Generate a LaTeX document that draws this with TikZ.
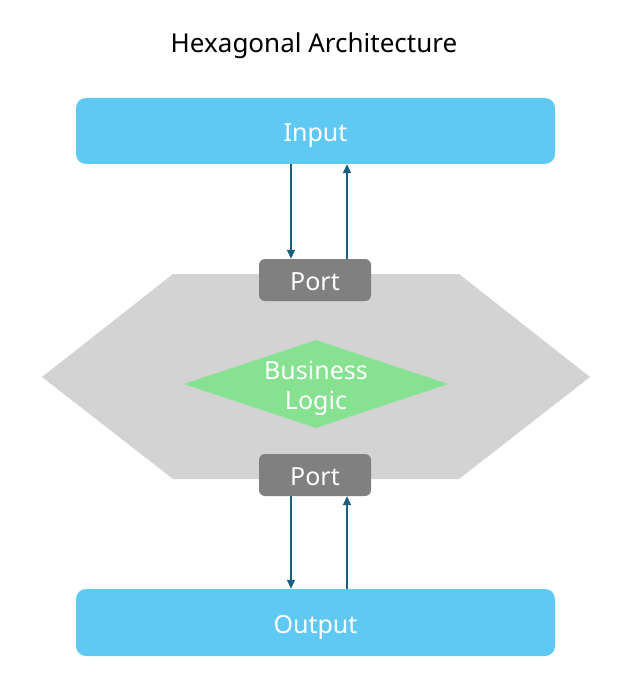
\documentclass[tikz,border=0pt]{standalone}
\usepackage{fontspec}
\setmainfont{Noto Sans}
\usetikzlibrary{shapes.geometric,arrows.meta}
\definecolor{boxblue}{HTML}{5FC9F3}
\definecolor{hexgrey}{HTML}{D3D3D3}
\definecolor{portgrey}{HTML}{808080}
\definecolor{logicgreen}{HTML}{86E291}
\definecolor{arrowteal}{HTML}{1A5F7F}
\tikzset{
  iobox/.style={rectangle, rounded corners=10pt, fill=boxblue, text=white,
    minimum width=479pt, minimum height=66pt, inner sep=0pt,
    font=\fontsize{25}{30}\selectfont, text height=21pt, text depth=0pt},
  portbox/.style={rectangle, rounded corners=6pt, fill=portgrey, text=white,
    minimum width=112pt, minimum height=42pt, inner sep=0pt,
    font=\fontsize{25}{30}\selectfont, text height=20pt, text depth=0pt},
  arr/.style={draw=arrowteal, line width=1.6pt, -{Triangle[length=9pt,width=8pt]}},
  lbl/.style={text=white, align=center, font=\fontsize{25}{30}\selectfont},
}
\begin{document}
\begin{tikzpicture}[x=1pt,y=-1pt]
\useasboundingbox (0,0) rectangle (633,695);
\node[font=\fontsize{26}{30}\selectfont, text height=18.5pt, text depth=0pt, inner sep=0pt] (title) at (314,43) {Hexagonal Architecture};
\node[iobox] (input) at (315.5,131) {Input};
\node[iobox, minimum height=67pt] (output) at (315.5,622.5) {Output};
\fill[hexgrey] (42,377) -- (173,274) -- (459,274) -- (590,377) -- (459,479) -- (173,479) -- cycle;
\node[diamond, fill=logicgreen, minimum width=265pt, minimum height=88pt, inner sep=0pt] (logic) at (316,384) {};
\node[lbl] (logictext) at (316,388) {Business\\Logic};
\node[portbox] (porttop) at (315,280) {Port};
\node[portbox] (portbot) at (315,475) {Port};
\coordinate (xl) at (291,0);
\coordinate (xr) at (347,0);
\draw[arr] (xl |- input.south) -- (xl |- porttop.north);
\draw[arr] (xr |- porttop.north) -- (xr |- input.south);
\draw[arr] (xl |- portbot.south) -- (xl |- output.north);
\draw[arr] (xr |- output.north) -- (xr |- portbot.south);
\end{tikzpicture}
\end{document}
